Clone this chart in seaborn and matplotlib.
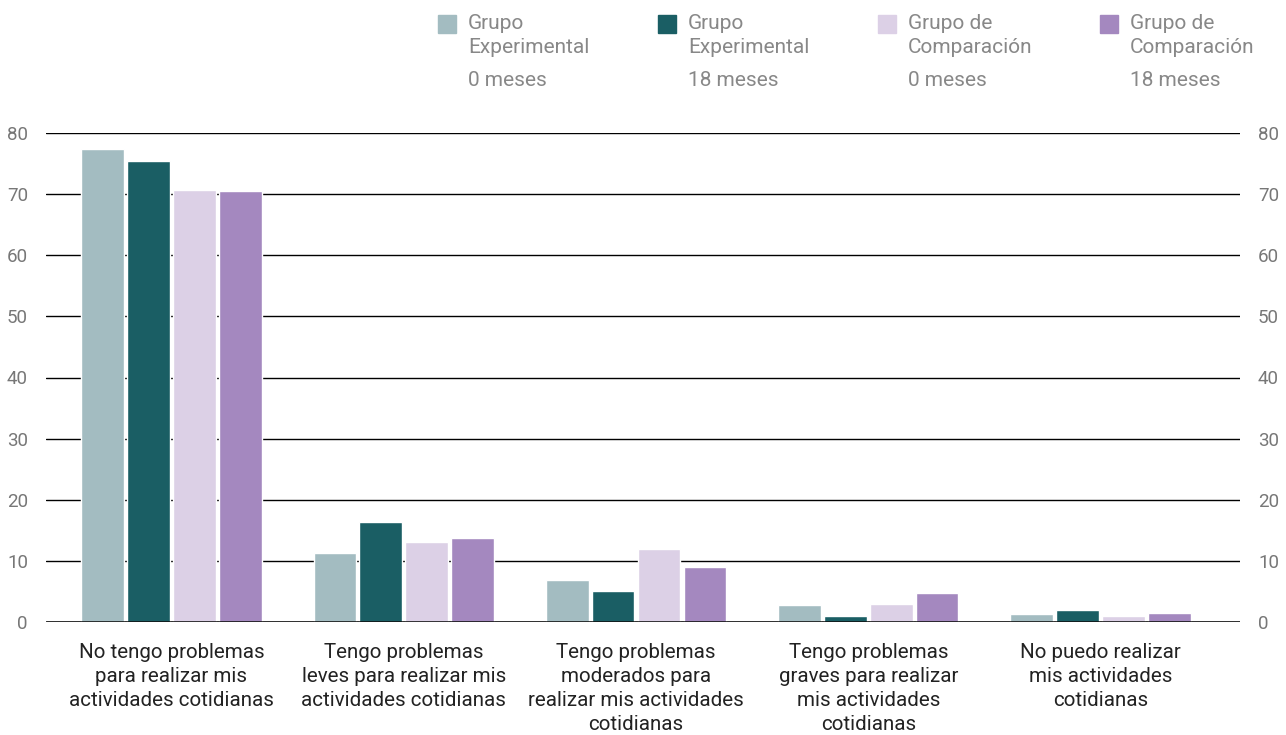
import numpy as np
import matplotlib.pyplot as plt
import seaborn as sns
import pandas as pd
from matplotlib.patches import Rectangle

categories = ['No tengo problemas\npara realizar mis\nactividades cotidianas',
              'Tengo problemas\nleves para realizar mis\nactividades cotidianas',
              'Tengo problemas\nmoderados para\nrealizar mis actividades\ncotidianas',
              'Tengo problemas\ngraves para realizar\nmis actividades\ncotidianas',
              'No puedo realizar\nmis actividades\ncotidianas']
groups = ['Grupo Experimental 0 meses', 'Grupo Experimental 18 meses',
          'Grupo de Comparación 0 meses', 'Grupo de Comparación 18 meses']
legend_names = ['Grupo\nExperimental', 'Grupo\nExperimental',
                'Grupo de\nComparación', 'Grupo de\nComparación']
legend_months = ['0 meses', '18 meses', '0 meses', '18 meses']

exp_0 = [77.4, 11.3, 6.9, 2.8, 1.3]
exp_18 = [75.4, 16.4, 5.1, 1.0, 2.0]
comp_0 = [70.7, 13.1, 11.9, 2.9, 1.0]
comp_18 = [70.5, 13.7, 9.0, 4.7, 1.5]

colors = ['#A3BCC1', '#1A5E64', '#DCD0E6', '#A488BF']

df = pd.DataFrame({
    'cat': categories * 4,
    'grupo': np.repeat(groups, len(categories)),
    'valor': exp_0 + exp_18 + comp_0 + comp_18,
})

sns.set_style('white')
plt.rcParams['font.family'] = ['Roboto', 'DejaVu Sans']

fig = plt.figure(figsize=(12.86, 7.35), dpi=100)
ax = fig.add_axes([46/1286, 1-622/735, (1240-46)/1286, (622-133)/735])

sns.barplot(data=df, x='cat', y='valor', hue='grupo', palette=colors,
            width=0.79, gap=0.07, saturation=1, legend=False, ax=ax, zorder=3)

ax.set_ylim(0, 80)
ax.set_xlim(-0.54, 4.6)
ax.set_yticks(range(0, 81, 10))
ax.grid(axis='y', color='black', linewidth=1, zorder=0)
ax.axhline(0, color='black', linewidth=1.8, zorder=4)
for s in ax.spines.values():
    s.set_visible(False)
ax.set_xlabel('')
ax.set_ylabel('')
ax.tick_params(axis='y', length=0, pad=13, labelsize=13.5, labelcolor='#777777',
               labelleft=True, labelright=True)
ax.tick_params(axis='x', length=0, pad=15, labelsize=14.8, labelcolor='#222222')
for lab in ax.get_xticklabels():
    lab.set_linespacing(1.33)
    lab.set_verticalalignment('top')

# legend drawn by hand
leg_x = [438, 658, 878, 1100]
for i in range(4):
    fig.patches.append(Rectangle((leg_x[i]/1286, 1-33/735), 18/1286, 18/735,
                                 transform=fig.transFigure, color=colors[i]))
    fig.text((leg_x[i]+30)/1286, 1-14/735, legend_names[i], fontsize=15,
             color='#888888', va='top', ha='left', linespacing=1.35)
    fig.text((leg_x[i]+30)/1286, 1-81/735, legend_months[i], fontsize=15,
             color='#888888', va='center', ha='left')

fig.savefig('out.png', dpi=100)
